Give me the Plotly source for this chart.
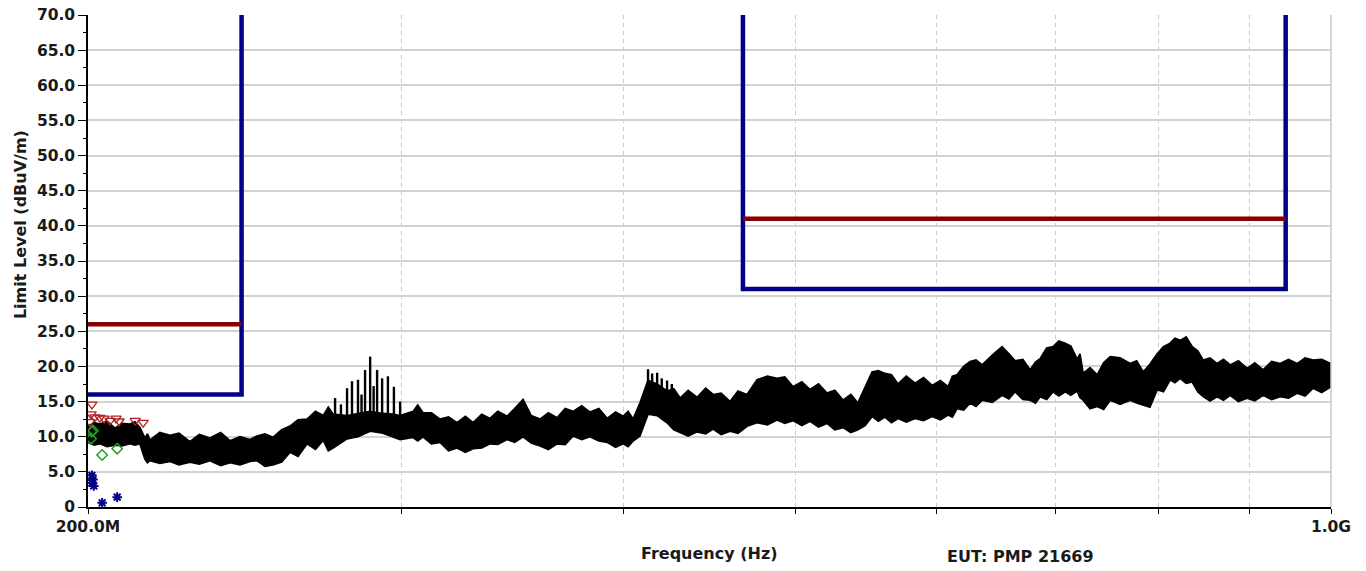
import plotly.graph_objects as go

# ---- measured sweep (MHz / dBuV/m): upper and lower envelope of the trace ----
freq_mhz = [200.0, 201.6, 203.1, 205.0, 207.1, 209.0, 211.2, 212.5, 213.9, 215.3,
            216.0, 216.7, 219.5, 222.4, 225.0, 228.2, 231.0, 234.2, 237.5, 240.4,
            243.5, 246.7, 248.9, 251.5, 254.1, 257.0, 259.8, 262.5, 265.6, 268.5,
            271.2, 273.0, 274.7, 279.7, 283.7, 288.2, 293.0, 296.8, 299.6, 304.7,
            306.5, 308.6, 312.0, 315.5, 319.0, 322.5, 326.0, 329.3, 333.0, 336.6,
            340.0, 344.1, 347.5, 351.3, 355.0, 359.1, 363.0, 367.1, 371.0, 374.8,
            379.0, 383.1, 387.5, 391.7, 396.0, 399.9, 402.5, 405.1, 408.7, 413.0,
            417.9, 423.3, 427.0, 430.5, 435.0, 440.1, 445.0, 449.3, 454.0, 459.3,
            464.0, 469.5, 475.6, 482.0, 488.1, 493.0, 498.3, 504.0, 509.4, 515.0,
            520.7, 526.0, 531.6, 537.0, 542.0, 547.0, 552.0, 556.5, 561.3, 566.0,
            570.9, 577.0, 583.6, 590.0, 596.6, 603.0, 609.1, 612.5, 616.2, 621.5,
            626.7, 631.5, 636.6, 645.0, 653.2, 659.0, 664.3, 671.0, 677.4, 682.0,
            686.2, 692.0, 697.8, 703.0, 708.8, 714.0, 719.9, 722.5, 725.5, 732.0,
            738.8, 745.0, 751.4, 761.0, 771.0, 777.5, 784.1, 791.0, 798.5, 805.0,
            812.0, 817.0, 822.6, 829.0, 835.5, 841.5, 847.5, 855.0, 863.0, 870.0,
            877.7, 887.0, 897.1, 906.0, 915.9, 926.0, 936.3, 946.5, 957.1, 967.0,
            977.1, 988.0, 1000.0]
level_hi = [11.5, 12.0, 11.8, 12.2, 11.2, 11.9, 11.8, 12.1, 11.3, 9.8,
            10.4, 9.5, 10.6, 10.2, 10.5, 9.3, 10.3, 9.8, 10.6, 9.4,
            10.0, 9.6, 10.1, 10.4, 9.9, 11.0, 11.5, 12.4, 12.5, 13.6,
            13.0, 14.2, 13.2, 13.0, 13.3, 13.6, 13.3, 13.2, 13.0, 13.6,
            14.5, 13.4, 13.4, 12.5, 12.8, 12.0, 12.9, 12.0, 13.2, 12.6,
            13.6, 12.9, 14.0, 15.3, 13.0, 12.5, 13.4, 12.7, 14.0, 13.6,
            14.4, 13.5, 14.0, 12.6, 13.5, 12.9, 13.6, 12.5, 14.8, 18.0,
            17.5, 16.5, 16.8, 15.5, 16.6, 15.6, 16.9, 16.0, 16.2, 15.0,
            16.5, 16.0, 18.1, 18.6, 18.3, 18.5, 17.1, 17.8, 16.7, 17.5,
            16.2, 16.6, 15.2, 16.0, 14.8, 17.0, 19.2, 19.4, 19.0, 18.8,
            17.5, 18.6, 17.6, 18.4, 17.3, 18.0, 17.1, 18.6, 18.8, 20.0,
            20.7, 20.9, 20.2, 21.6, 22.8, 21.8, 20.8, 21.0, 19.5, 20.6,
            21.1, 22.6, 22.8, 23.6, 23.3, 22.9, 21.0, 21.8, 19.0, 19.8,
            18.8, 20.5, 21.4, 21.2, 20.4, 20.8, 19.2, 20.3, 21.8, 22.8,
            23.3, 24.0, 23.7, 24.2, 22.8, 22.2, 20.9, 21.2, 20.4, 21.0,
            20.2, 20.8, 19.7, 20.5, 19.5, 20.7, 20.4, 21.0, 20.4, 21.2,
            20.9, 21.0, 20.4]
level_lo = [9.2, 8.8, 9.0, 8.6, 8.8, 8.7, 9.0, 8.8, 9.0, 6.8,
            6.3, 6.6, 6.2, 6.5, 6.0, 6.4, 6.1, 6.6, 5.9, 6.3,
            6.0, 6.5, 6.6, 5.8, 6.0, 6.4, 7.8, 7.2, 9.0, 8.2,
            9.5, 8.0, 8.4, 9.7, 10.0, 10.8, 10.5, 10.0, 9.6, 9.9,
            9.4, 10.0, 9.0, 9.2, 8.0, 8.4, 7.8, 8.3, 8.4, 9.0,
            8.9, 9.6, 9.2, 10.0, 9.1, 8.7, 8.2, 9.0, 8.9, 10.1,
            9.6, 10.0, 9.4, 9.2, 8.5, 9.0, 8.6, 9.4, 10.1, 13.2,
            13.0, 12.0, 11.0, 10.6, 10.1, 10.7, 10.4, 11.1, 10.3, 10.8,
            10.5, 11.5, 12.0, 11.7, 12.4, 11.9, 12.3, 11.6, 12.2, 11.4,
            11.9, 11.0, 11.3, 10.6, 11.0, 11.6, 12.9, 12.2, 12.8, 12.0,
            12.6, 12.1, 12.6, 12.3, 12.9, 12.4, 13.1, 12.8, 14.0, 13.8,
            14.8, 14.3, 15.2, 14.9, 15.9, 15.4, 16.4, 15.3, 15.2, 14.8,
            15.7, 15.3, 16.4, 15.8, 16.4, 15.9, 16.5, 15.6, 15.2, 14.0,
            14.3, 13.9, 15.2, 14.6, 15.2, 14.8, 14.5, 14.2, 16.7, 16.4,
            18.1, 17.7, 18.3, 17.6, 17.8, 16.4, 15.7, 15.1, 15.7, 15.2,
            15.9, 15.0, 15.5, 15.1, 15.9, 15.3, 15.7, 15.5, 16.2, 15.8,
            16.9, 16.3, 17.1]

# individual spectral lines that stand out of the noise band
spike_mhz = [275.4, 277.5, 279.7, 281.5, 283.7, 285.0, 286.3, 288.2, 289.5, 290.8,
             292.7, 294.9, 297.2, 299.6, 413.0, 415.2, 417.9, 420.4, 423.3, 425.9]
spike_top = [15.5, 14.6, 16.9, 17.9, 18.1, 16.0, 19.5, 21.4, 17.2, 19.5,
             18.3, 18.6, 17.1, 15.0, 19.6, 19.0, 19.1, 18.3, 18.0, 17.5]
spike_base = [9.0, 9.5, 9.7, 10.0, 10.0, 10.3, 10.5, 11.0, 10.8, 10.8,
              10.5, 10.3, 10.0, 9.6, 13.5, 13.3, 13.0, 12.5, 12.0, 11.5]

# final measurements
peak_mhz = [200.5, 200.8, 201.0, 201.8, 203.1, 204.2, 205.8, 207.4, 208.2, 212.6, 214.8]
peak_val = [12.1, 13.2, 14.6, 12.8, 12.7, 12.6, 12.3, 12.6, 12.2, 12.3, 12.0]
qp_mhz = [200.8, 201.0, 201.3, 203.7, 207.7]
qp_val = [9.7, 10.7, 10.9, 7.4, 8.3]
avg_mhz = [201.0, 201.3, 201.0, 201.5, 203.7, 207.7]
avg_val = [4.5, 3.9, 3.4, 3.0, 0.6, 1.4]

# limit masks (MHz / dBuV/m)
mask_a_mhz = [200.0, 244.0, 244.0]
mask_a_val = [16.0, 16.0, 70.0]
line_a_mhz = [200.0, 244.0]
line_a_val = [26.0, 26.0]
mask_b_mhz = [467.0, 467.0, 943.0, 943.0]
mask_b_val = [70.0, 31.0, 31.0, 70.0]
line_b_mhz = [467.0, 943.0]
line_b_val = [41.0, 41.0]

x_ticks_mhz = [200, 300, 400, 500, 600, 700, 800, 900, 1000]
x_tick_text = ["200.0M", "", "", "", "", "", "", "", "1.0G"]
y_ticks = [0, 5, 10, 15, 20, 25, 30, 35, 40, 45, 50, 55, 60, 65, 70]
y_tick_text = ["0", "5.0", "10.0", "15.0", "20.0", "25.0", "30.0", "35.0",
               "40.0", "45.0", "50.0", "55.0", "60.0", "65.0", "70.0"]

hz = lambda seq: [v * 1e6 for v in seq]

NAVY = "#000088"
MAROON = "#870000"
FONT = "DejaVu Sans"

fig = go.Figure()

# noise band
fig.add_trace(go.Scatter(x=hz(freq_mhz), y=level_lo, mode="lines",
                         line=dict(color="black", width=1.8), hoverinfo="skip"))
fig.add_trace(go.Scatter(x=hz(freq_mhz), y=level_hi, mode="lines", fill="tonexty",
                         fillcolor="black", line=dict(color="black", width=1.8)))

# spectral lines
sx, sy = [], []
for f, b, t in zip(spike_mhz, spike_base, spike_top):
    sx += [f * 1e6, f * 1e6, None]
    sy += [b, t, None]
fig.add_trace(go.Scatter(x=sx, y=sy, mode="lines", line=dict(color="black", width=2.4)))

# limit masks
for xs, ys, col in [(mask_a_mhz, mask_a_val, NAVY), (line_a_mhz, line_a_val, MAROON),
                    (mask_b_mhz, mask_b_val, NAVY), (line_b_mhz, line_b_val, MAROON)]:
    fig.add_trace(go.Scatter(x=hz(xs), y=ys, mode="lines",
                             line=dict(color=col, width=4.5)))

# final measurement markers
fig.add_trace(go.Scatter(x=hz(peak_mhz), y=peak_val, mode="markers",
                         marker=dict(symbol="triangle-down-open", size=9,
                                     color="#b22222", line=dict(width=1.3))))
fig.add_trace(go.Scatter(x=hz(qp_mhz), y=qp_val, mode="markers",
                         marker=dict(symbol="diamond-open", size=8,
                                     color="#22a022", line=dict(width=1.5))))
fig.add_trace(go.Scatter(x=hz(avg_mhz), y=avg_val, mode="markers",
                         marker=dict(symbol="asterisk-open", size=8,
                                     color=NAVY, line=dict(width=2, color=NAVY))))

x_range = [8.30103, 9.0]
tick_font = dict(family=FONT, size=15.5, color="#1a1a1a", weight="bold")

fig.update_layout(
    width=1366, height=571,
    margin=dict(l=88, r=35, t=15, b=64, autoexpand=False),
    paper_bgcolor="white", plot_bgcolor="white",
    showlegend=False,
    xaxis=dict(type="log", range=x_range, tickvals=hz(x_ticks_mhz), ticktext=x_tick_text,
               ticks="outside", ticklen=5, tickcolor="black", tickwidth=1,
               showline=True, linecolor="black", linewidth=1.5, automargin=False,
               showgrid=True, gridcolor="#c8c8c8", griddash="4px,4px", gridwidth=1,
               tickfont=tick_font, zeroline=False),
    yaxis=dict(range=[0, 70], tickvals=y_ticks, ticktext=y_tick_text,
               ticks="outside", ticklen=8, tickcolor="black", tickwidth=1,
               minor=dict(ticks="outside", ticklen=3, dtick=2.5, tick0=0,
                          tickcolor="black", showgrid=False),
               showline=True, linecolor="black", linewidth=1.5, automargin=False,
               showgrid=True, gridcolor="#d2d2d2", gridwidth=1.5,
               tickfont=tick_font, zeroline=False),
    xaxis2=dict(type="log", range=x_range, overlaying="x", tickvals=hz(x_ticks_mhz[1:-1]),
                ticks="inside", ticklen=5, tickcolor="black", showticklabels=False,
                showgrid=False, showline=False, zeroline=False, automargin=False),
    yaxis2=dict(range=[0, 70], overlaying="y", side="left", tickvals=y_ticks,
                ticks="inside", ticklen=4, tickcolor="black", showticklabels=False,
                minor=dict(ticks="inside", ticklen=4, dtick=2.5, tick0=0, tickcolor="black"),
                showgrid=False, showline=False, zeroline=False, automargin=False),
)

# light frame on the right-hand edge
fig.add_shape(type="line", xref="paper", yref="paper", x0=1, x1=1, y0=0, y1=1,
              line=dict(color="#c8c8c8", width=1.5))

title_font = dict(family=FONT, size=16, color="#1a1a1a", weight="bold")
fig.add_annotation(text="Frequency (Hz)", xref="paper", yref="paper", x=0.5004, y=-0.0955,
                   showarrow=False, font=title_font, xanchor="center", yanchor="middle")
fig.add_annotation(text="EUT: PMP 21669", xref="paper", yref="paper", x=0.7506, y=-0.1016,
                   showarrow=False, font=title_font, xanchor="center", yanchor="middle")
fig.add_annotation(text="Limit Level (dBuV/m)", xref="paper", yref="paper", x=-0.0547, y=0.573,
                   showarrow=False, font=title_font, textangle=-90,
                   xanchor="center", yanchor="middle")

fig.write_html("out.html")
